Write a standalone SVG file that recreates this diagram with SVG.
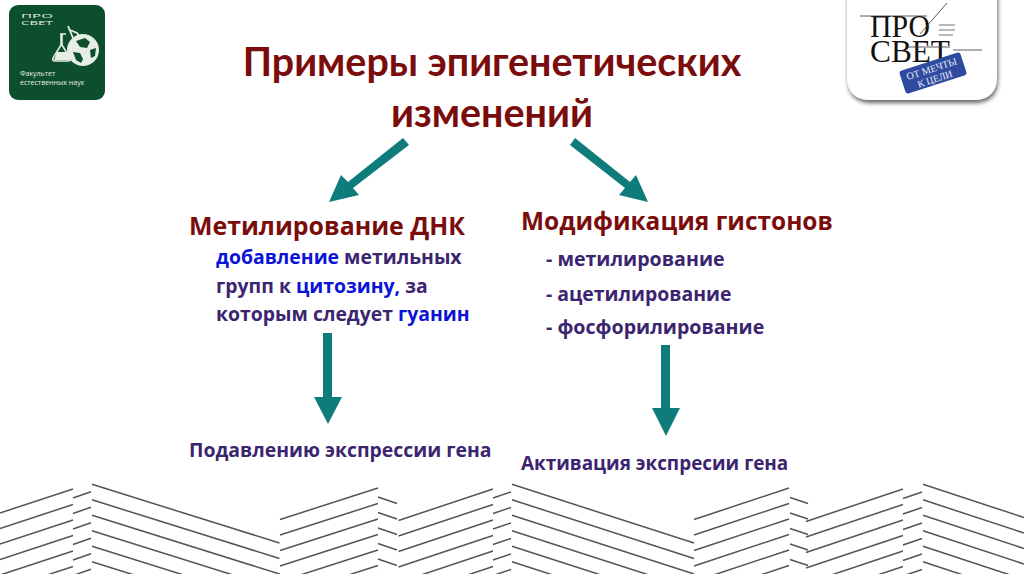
<svg xmlns="http://www.w3.org/2000/svg" width="1024" height="574" viewBox="0 0 1024 574">
<defs>
<style>
text{font-family:"Open Sans","Liberation Sans",sans-serif;font-weight:700}
.title{font-family:Lato,"Open Sans",sans-serif;font-size:39.4px;fill:#7a0c0c}
.head{font-size:24.6px;fill:#7a0c0c}
.body{font-size:19.4px;fill:#3b2470}
.blue{fill:#0a14d8}
.arrow{fill:#0f7c7c}
.zig{fill:none;stroke:#555;stroke-width:1.5}
.ser{font-family:"Liberation Serif",serif;font-weight:400}
.lg{fill:#e6ece6;font-weight:400}
</style>
<filter id="sh" x="-20%" y="-20%" width="140%" height="140%"><feDropShadow dx="1" dy="3" stdDeviation="2" flood-color="#000" flood-opacity=".6"/></filter>
<path id="row" class="zig" d="M0 513L73 489M73 498L91 491.7M92 484.3L279.5 543M280 519.5L378 488M378 497L397 503.5M398.5 520.5L493 489M493 498L511 492M512 484.3L694 543M694 519.5L789 488M790 497.5L808 503.5M806 521.5L903 489M903 498.5L922 492M923 484.3L1024 517.5"/>
</defs>
<rect width="1024" height="574" fill="#fff"/>
<g id="pattern">
<use href="#row"/><use href="#row" y="15.5"/><use href="#row" y="31"/><use href="#row" y="46.5"/><use href="#row" y="62"/><use href="#row" y="77.5"/>
</g>
<g id="logo-left">
<rect x="9" y="5" width="96" height="95" rx="9" fill="#0d4f2c"/>
<text class="lg" x="21" y="18" font-size="5" textLength="32" lengthAdjust="spacingAndGlyphs">ПРО</text>
<text class="lg" x="21" y="24.500" font-size="5" textLength="32" lengthAdjust="spacingAndGlyphs">СВЕТ</text>
<path d="M60 34h6M61 34v11l-8 13q-1 3 2 3h13q3 0 2-3l-8-13v-11" fill="none" stroke="#e6ece6" stroke-width="1.6"/>
<path d="M57 52h11l3 8h-17z" fill="#e6ece6"/>
<circle cx="83" cy="50" r="16" fill="#e6ece6"/>
<path d="M76 41l9-3 5 4-3 6-7-1zM73 52l7 1 3 6-2 4-5-3zM90 50l6-2-1 8-4 2z" fill="#0d4f2c"/>
<path d="M68 26l5 12M70 30l7 3 3 4" fill="none" stroke="#e6ece6" stroke-width="1.8"/>
<text class="lg" x="20" y="76" font-size="7">Факультет</text>
<text class="lg" x="20" y="85" font-size="7">естественных наук</text>
</g>
<g id="logo-right">
<path d="M847 -8H997V76Q997 100 973 100H871Q847 100 847 76Z" fill="#fff" filter="url(#sh)"/>
<text class="ser" x="870" y="37" font-size="31" fill="#111" textLength="60" lengthAdjust="spacingAndGlyphs">ПРО</text>
<text class="ser" x="870" y="62" font-size="31" fill="#111" textLength="80" lengthAdjust="spacingAndGlyphs">СВЕТ</text>
<path d="M860 16H927M953 50H982M920 34L947 3M905 47H950" fill="none" stroke="#333" stroke-width=".8"/>
<path d="M939 25H955M939 30H955M939 35H953" fill="none" stroke="#777" stroke-width="1.2"/>
<g transform="rotate(-18 933 73)">
<rect x="901" y="61" width="64" height="24" rx="3" fill="#2f4ba0"/>
<text class="ser" x="933" y="72" font-size="10" text-anchor="middle" fill="#e8ecf6">ОТ МЕЧТЫ</text>
<text class="ser" x="933" y="82.500" font-size="10" text-anchor="middle" fill="#e8ecf6">К ЦЕЛИ</text>
</g>
</g>
<g id="title">
<text class="title" x="492" y="76" text-anchor="middle">Примеры эпигенетических</text>
<text class="title" x="492" y="127" text-anchor="middle">изменений</text>
</g>
<g id="methylation">
<text class="head" x="189" y="235" style="font-size:24.9px">Метилирование ДНК</text>
<text class="body" x="216" y="264"><tspan class="blue">добавление</tspan> метильных</text>
<text class="body" x="216" y="293">групп к <tspan class="blue">цитозину,</tspan> за</text>
<text class="body" x="216" y="321">которым следует <tspan class="blue">гуанин</tspan></text>
</g>
<g id="histones">
<text class="head" x="521" y="230" style="font-size:24.45px">Модификация гистонов</text>
<text class="body" x="546" y="266" style="font-size:19.6px">- метилирование</text>
<text class="body" x="546" y="301">- ацетилирование</text>
<text class="body" x="546" y="334" style="font-size:19.6px">- фосфорилирование</text>
</g>
<g id="result-left"><text class="body" x="189" y="457">Подавлению экспрессии гена</text></g>
<g id="result-right"><text class="body" x="521" y="470" style="font-size:18.9px">Активация экспресии гена</text></g>
<g id="connectors">
<path class="arrow" d="M403 138L409 145L353 188L359 195L329 202L341 175L348 182Z"/>
<path class="arrow" d="M575 138L570 145L625 188L619 195L648 202L636 175L630 182Z"/>
<path class="arrow" d="M323 333H332V397H342L328 424L314 397H323Z"/>
<path class="arrow" d="M661 345H670V408H680L666 436L652 408H661Z"/>
</g>
</svg>
